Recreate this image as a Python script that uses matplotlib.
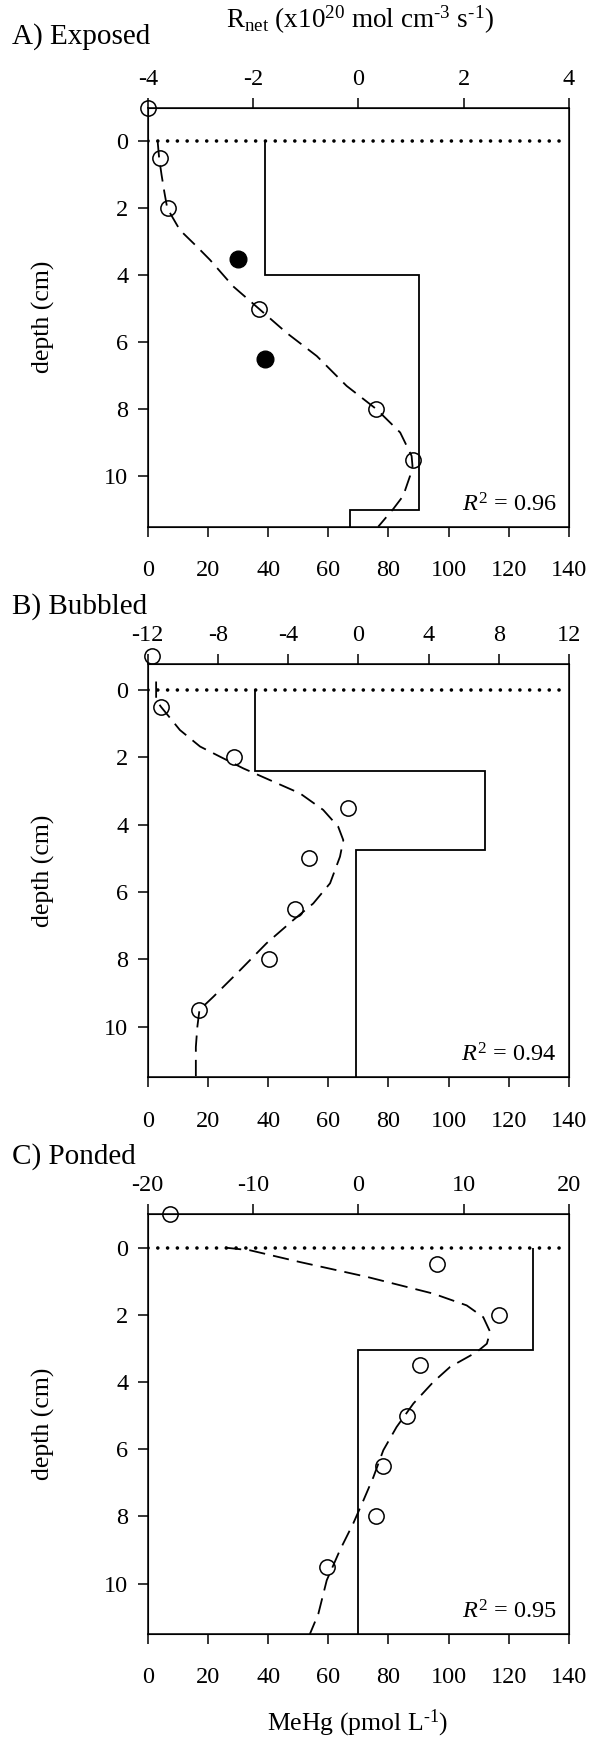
"""Depth profiles of MeHg (bottom axis) and net methylation rate (top axis)
for the exposed, bubbled and ponded cores."""

import matplotlib.pyplot as plt
import numpy as np

plt.rcParams["font.family"] = ["Liberation Serif", "DejaVu Serif"]
plt.rcParams["mathtext.fontset"] = "custom"
plt.rcParams["mathtext.rm"] = "Liberation Serif"
plt.rcParams["mathtext.it"] = "Liberation Serif:italic"
plt.rcParams["axes.unicode_minus"] = False

# measured MeHg (pmol/L), open circles; depth -1 is the overlying water
depth_obs = [-1, 0.5, 2, 3.5, 5, 6.5, 8, 9.5]
mehg_A = [0, 4.1, 6.6, np.nan, 37, np.nan, 76, 88.3]
mehg_A_filled = [30, 39]
depth_A_filled = [3.5, 6.5]
mehg_B = [1.3, 4.4, 28.8, 66.7, 53.7, 49, 40.4, 17.2]
mehg_C = [7.4, 96, 116.7, 90.5, 86.1, 78.3, 75.9, 59.7]

# model fits (dashed)
fit_A_mehg = [3.3, 3.8, 4.6, 5.5, 6.5, 10.7, 16.3, 20.7, 28.4, 37, 46.2, 56.2,
              66.1, 76.1, 83.9, 87.7, 88.0, 87.2, 84.9, 81.6, 76.6]
fit_A_depth = [0, 0.5, 1, 1.5, 2, 2.65, 3.14, 3.54, 4.33, 5, 5.72, 6.41,
               7.3, 8, 8.69, 9.39, 9.7, 9.98, 10.58, 10.97, 11.5]
fit_B_mehg = [2.8, 2.8, 4.4, 10.7, 17.4, 24, 31.8, 41.7, 50.6, 58.3, 63.3, 65,
              63.9, 60.6, 55, 48.4, 39.5, 30.7, 21.8, 17.2, 16.5, 16.0, 16.0]
fit_B_depth = [-0.25, 0.3, 0.5, 1.19, 1.68, 1.98, 2.33, 2.72, 3.07, 3.56, 4.06,
               4.46, 4.95, 5.74, 6.34, 6.83, 7.52, 8.32, 9.11, 9.5, 10, 10.6, 11.5]
fit_C_mehg = [25.7, 34, 50.6, 72.8, 94.9, 106, 111.5, 113.8, 112.7, 109.3, 100.5,
              94.9, 88.3, 82.7, 78.3, 75, 71.7, 68.3, 63.9, 59.5, 56.7, 53.9]
fit_C_depth = [0, 0.08, 0.43, 0.87, 1.37, 1.72, 2.07, 2.51, 2.86, 3.11, 3.55,
               4.0, 4.64, 5.34, 6.03, 6.83, 7.52, 8.21, 9.0, 9.9, 10.9, 11.5]

# net rate (x1e20 mol cm-3 s-1) per depth layer
rnet_A = [-1.77, 1.15, -0.16]
edges_A = [0, 4, 11, 11.5]
rnet_B = [-5.9, 7.2, -0.15]
edges_B = [0, 2.4, 4.75, 11.5]
rnet_C = [16.6, 0.0]
edges_C = [0, 3.05, 11.5]

r2_text = ["0.96", "0.94", "0.95"]
titles = ["A) Exposed", "B) Bubbled", "C) Ponded"]
rnet_lims = [(-4, 4), (-12, 12), (-20, 20)]
rnet_ticks = [[-4, -2, 0, 2, 4], [-12, -8, -4, 0, 4, 8, 12], [-20, -10, 0, 10, 20]]
depth_top = [-1, -0.77, -1]

W, H = 592, 1737
fig = plt.figure(figsize=(W / 100, H / 100), dpi=100)

# axes boxes in pixels: (top, bottom)
boxes = [(107.7, 526.7), (664, 1077.3), (1214, 1634)]
title_y = [37, 607, 1157]
left, right = 147.7, 569

panels = [
    (mehg_A, fit_A_mehg, fit_A_depth, rnet_A, edges_A),
    (mehg_B, fit_B_mehg, fit_B_depth, rnet_B, edges_B),
    (mehg_C, fit_C_mehg, fit_C_depth, rnet_C, edges_C),
]

for i, (mehg, fm, fd, rnet, edges) in enumerate(panels):
    top_px, bot_px = boxes[i]
    ax = fig.add_axes([left / W, 1 - bot_px / H, (right - left) / W, (bot_px - top_px) / H])
    ax.set_xlim(0, 140)
    ax.set_ylim(11.5, depth_top[i])
    ax.set_xticks(range(0, 141, 20))
    ax.set_yticks(range(0, 11, 2))
    ax.tick_params(axis="x", direction="out", length=7, width=1.1, labelsize=17.5, pad=17)
    ax.tick_params(axis="y", direction="out", length=7, width=1.1, labelsize=17.5, pad=7)
    for s in ax.spines.values():
        s.set_linewidth(1.1)

    ax.plot([0, 138.7], [0, 0], color="k", lw=2.6, linestyle=(0, (0.01, 2.7)),
            dash_capstyle="round")
    ax.plot(fm, fd, color="k", lw=1.3, dashes=(9, 4.5))
    ax.plot(mehg, depth_obs, "o", ms=11, mfc="none", mec="k", mew=1.1, clip_on=False)
    if i == 0:
        ax.plot(mehg_A_filled, depth_A_filled, "o", ms=12, color="k")

    top = ax.twiny()
    top.set_xlim(*rnet_lims[i])
    top.set_xticks(rnet_ticks[i])
    top.tick_params(axis="x", direction="out", length=7, width=1.1, labelsize=17.5, pad=6)
    top.stairs(rnet, edges, orientation="horizontal", baseline=None, color="k", lw=1.3)

    ax.set_ylabel("depth (cm)", fontsize=18.5)
    ax.yaxis.set_label_coords(-0.22, 0.5)
    ax.text(0.971, 0.025, r"$R^2$ = " + r2_text[i], transform=ax.transAxes,
            ha="right", va="bottom", fontsize=17.5)
    fig.text(12 / W, 1 - title_y[i] / H, titles[i], fontsize=21, va="center")

fig.text(360 / W, 1 - 20 / H,
         r"R$_{\mathrm{net}}$ (x10$^{20}$ mol cm$^{\text{-}3}$ s$^{\text{-}1}$)",
         fontsize=19.5, ha="center", va="center")
fig.text(358 / W, 1 - 1723 / H, r"MeHg (pmol L$^{\text{-}1}$)",
         fontsize=18.5, ha="center", va="center")

fig.savefig("out.png", dpi=100)
